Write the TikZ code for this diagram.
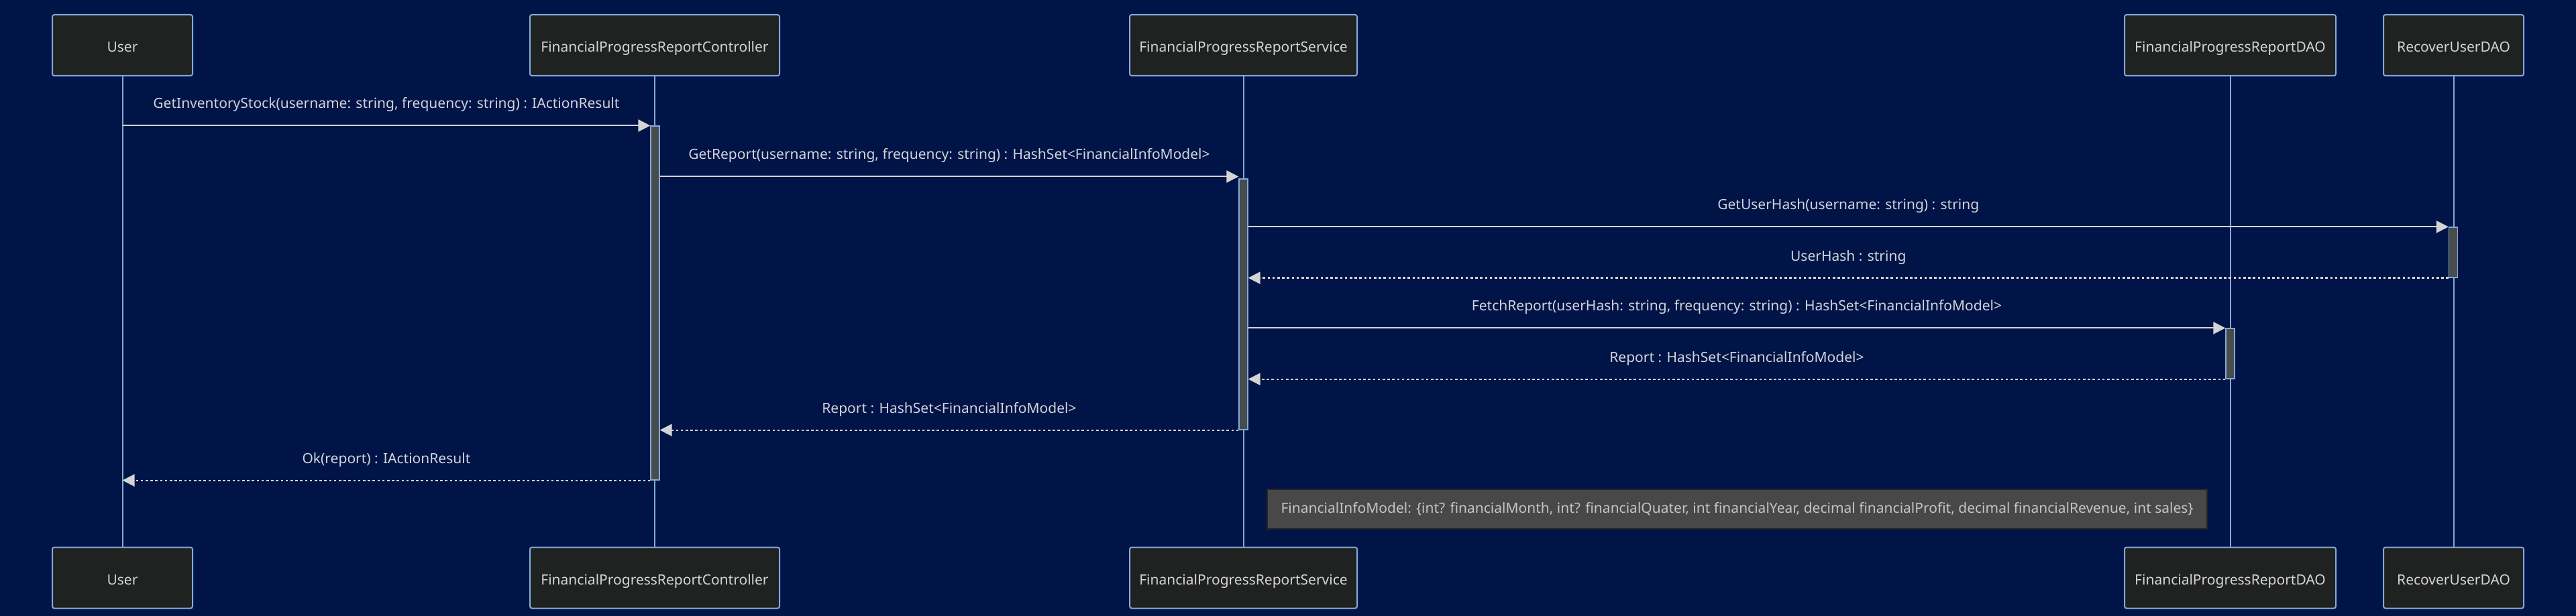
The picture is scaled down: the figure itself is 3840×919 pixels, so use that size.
\documentclass[tikz,border=0pt]{standalone}
\usepackage{fontspec}
\setmainfont{Noto Sans}
\usetikzlibrary{arrows.meta,calc}
\definecolor{bgc}{RGB}{0,20,72}
\definecolor{boxfill}{RGB}{32,33,33}
\definecolor{boxborder}{RGB}{130,170,215}
\definecolor{txtc}{RGB}{212,212,216}
\definecolor{arrc}{RGB}{212,212,212}
\definecolor{actfill}{RGB}{72,76,74}
\definecolor{notefill}{RGB}{72,72,72}
\definecolor{noteborder}{RGB}{38,38,38}
\definecolor{notetxt}{RGB}{196,196,196}
\tikzset{
  actor/.style={draw=boxborder, line width=1pt, fill=boxfill, rounded corners=1.5pt,
    minimum height=45.5pt, inner sep=0pt, text height=10pt, text depth=0pt,
    text=txtc, font=\fontsize{10.5}{12}\selectfont},
  life/.style={draw=boxborder, line width=1pt},
  actbar/.style={draw=boxborder, line width=0.6pt, fill=actfill, minimum width=6.5pt, inner sep=0pt},
  msg/.style={draw=arrc, line width=1.1pt, -{Triangle[length=9pt,width=9pt]}},
  ret/.style={msg, dash pattern=on 1.8pt off 1.8pt},
  lbl/.style={text=txtc, font=\fontsize{10.5}{12}\selectfont, inner sep=0pt, midway, yshift=15.5pt},
  notebox/.style={draw=noteborder, line width=1pt, fill=notefill, text=notetxt,
    minimum width=700.5pt, minimum height=29.5pt, inner sep=0pt, font=\fontsize{10.5}{12}\selectfont}
}
\begin{document}
\begin{tikzpicture}[x=0.5pt,y=-0.5pt]
\fill[bgc] (0,0) rectangle (3840,919);
\useasboundingbox (0,0) rectangle (3840,919);
% top actors
\node[actor, minimum width=104.5pt] (userT) at (182.5,67.5) {User};
\node[actor, minimum width=186pt] (ctrlT) at (976,67.5) {FinancialProgressReportController};
\node[actor, minimum width=169.5pt] (servT) at (1853.5,67.5) {FinancialProgressReportService};
\node[actor, minimum width=157.5pt] (daoT) at (3324.5,67.5) {FinancialProgressReportDAO};
\node[actor, minimum width=104.5pt] (recT) at (3657.5,67.5) {RecoverUserDAO};
% bottom actors
\node[actor, minimum width=104.5pt] (userB) at (182.5,862) {User};
\node[actor, minimum width=186pt] (ctrlB) at (976,862) {FinancialProgressReportController};
\node[actor, minimum width=169.5pt] (servB) at (1853.5,862) {FinancialProgressReportService};
\node[actor, minimum width=157.5pt] (daoB) at (3324.5,862) {FinancialProgressReportDAO};
\node[actor, minimum width=104.5pt] (recB) at (3657.5,862) {RecoverUserDAO};
% lifelines
\draw[life] (userT.south) -- (userB.north);
\draw[life] (ctrlT.south) -- (ctrlB.north);
\draw[life] (servT.south) -- (servB.north);
\draw[life] (daoT.south) -- (daoB.north);
\draw[life] (recT.south) -- (recB.north);
% activation bars
\node[actbar, minimum height=264pt] (actC) at (976.5,452) {};
\node[actbar, minimum height=187pt] (actS) at (1853.5,454) {};
\node[actbar, minimum height=37.5pt] (actR) at (3657,376.5) {};
\node[actbar, minimum height=37.5pt] (actD) at (3324.5,527.5) {};
% messages
\draw[msg] (userT.south |- actC.north) -- node[lbl] {GetInventoryStock(username: string, frequency: string) : IActionResult} (actC.north west);
\draw[msg] ($(actC.east |- actS.north)+(0,-3)$) -- node[lbl] {GetReport(username: string, frequency: string) : HashSet<FinancialInfoModel>} ($(actS.north west)+(0,-3)$);
\draw[msg] (actS.east |- actR.north) -- node[lbl] {GetUserHash(username: string) : string} (actR.north west);
\draw[ret] (actR.south west) -- node[lbl] {UserHash : string} (actS.east |- actR.south);
\draw[msg] (actS.east |- actD.north) -- node[lbl] {FetchReport(userHash: string, frequency: string) : HashSet<FinancialInfoModel>} (actD.north west);
\draw[ret] (actD.south west) -- node[lbl] {Report : HashSet<FinancialInfoModel>} (actS.east |- actD.south);
\draw[ret] (actS.south west) -- node[lbl] {Report : HashSet<FinancialInfoModel>} (actC.east |- actS.south);
\draw[ret] (actC.south west) -- node[lbl] {Ok(report) : IActionResult} (userT.south |- actC.south);
% note
\node[notebox] (note) at (2589.5,759.5) {FinancialInfoModel: \{int? financialMonth, int? financialQuater, int financialYear, decimal financialProfit, decimal financialRevenue, int sales\}};
\end{tikzpicture}
\end{document}
